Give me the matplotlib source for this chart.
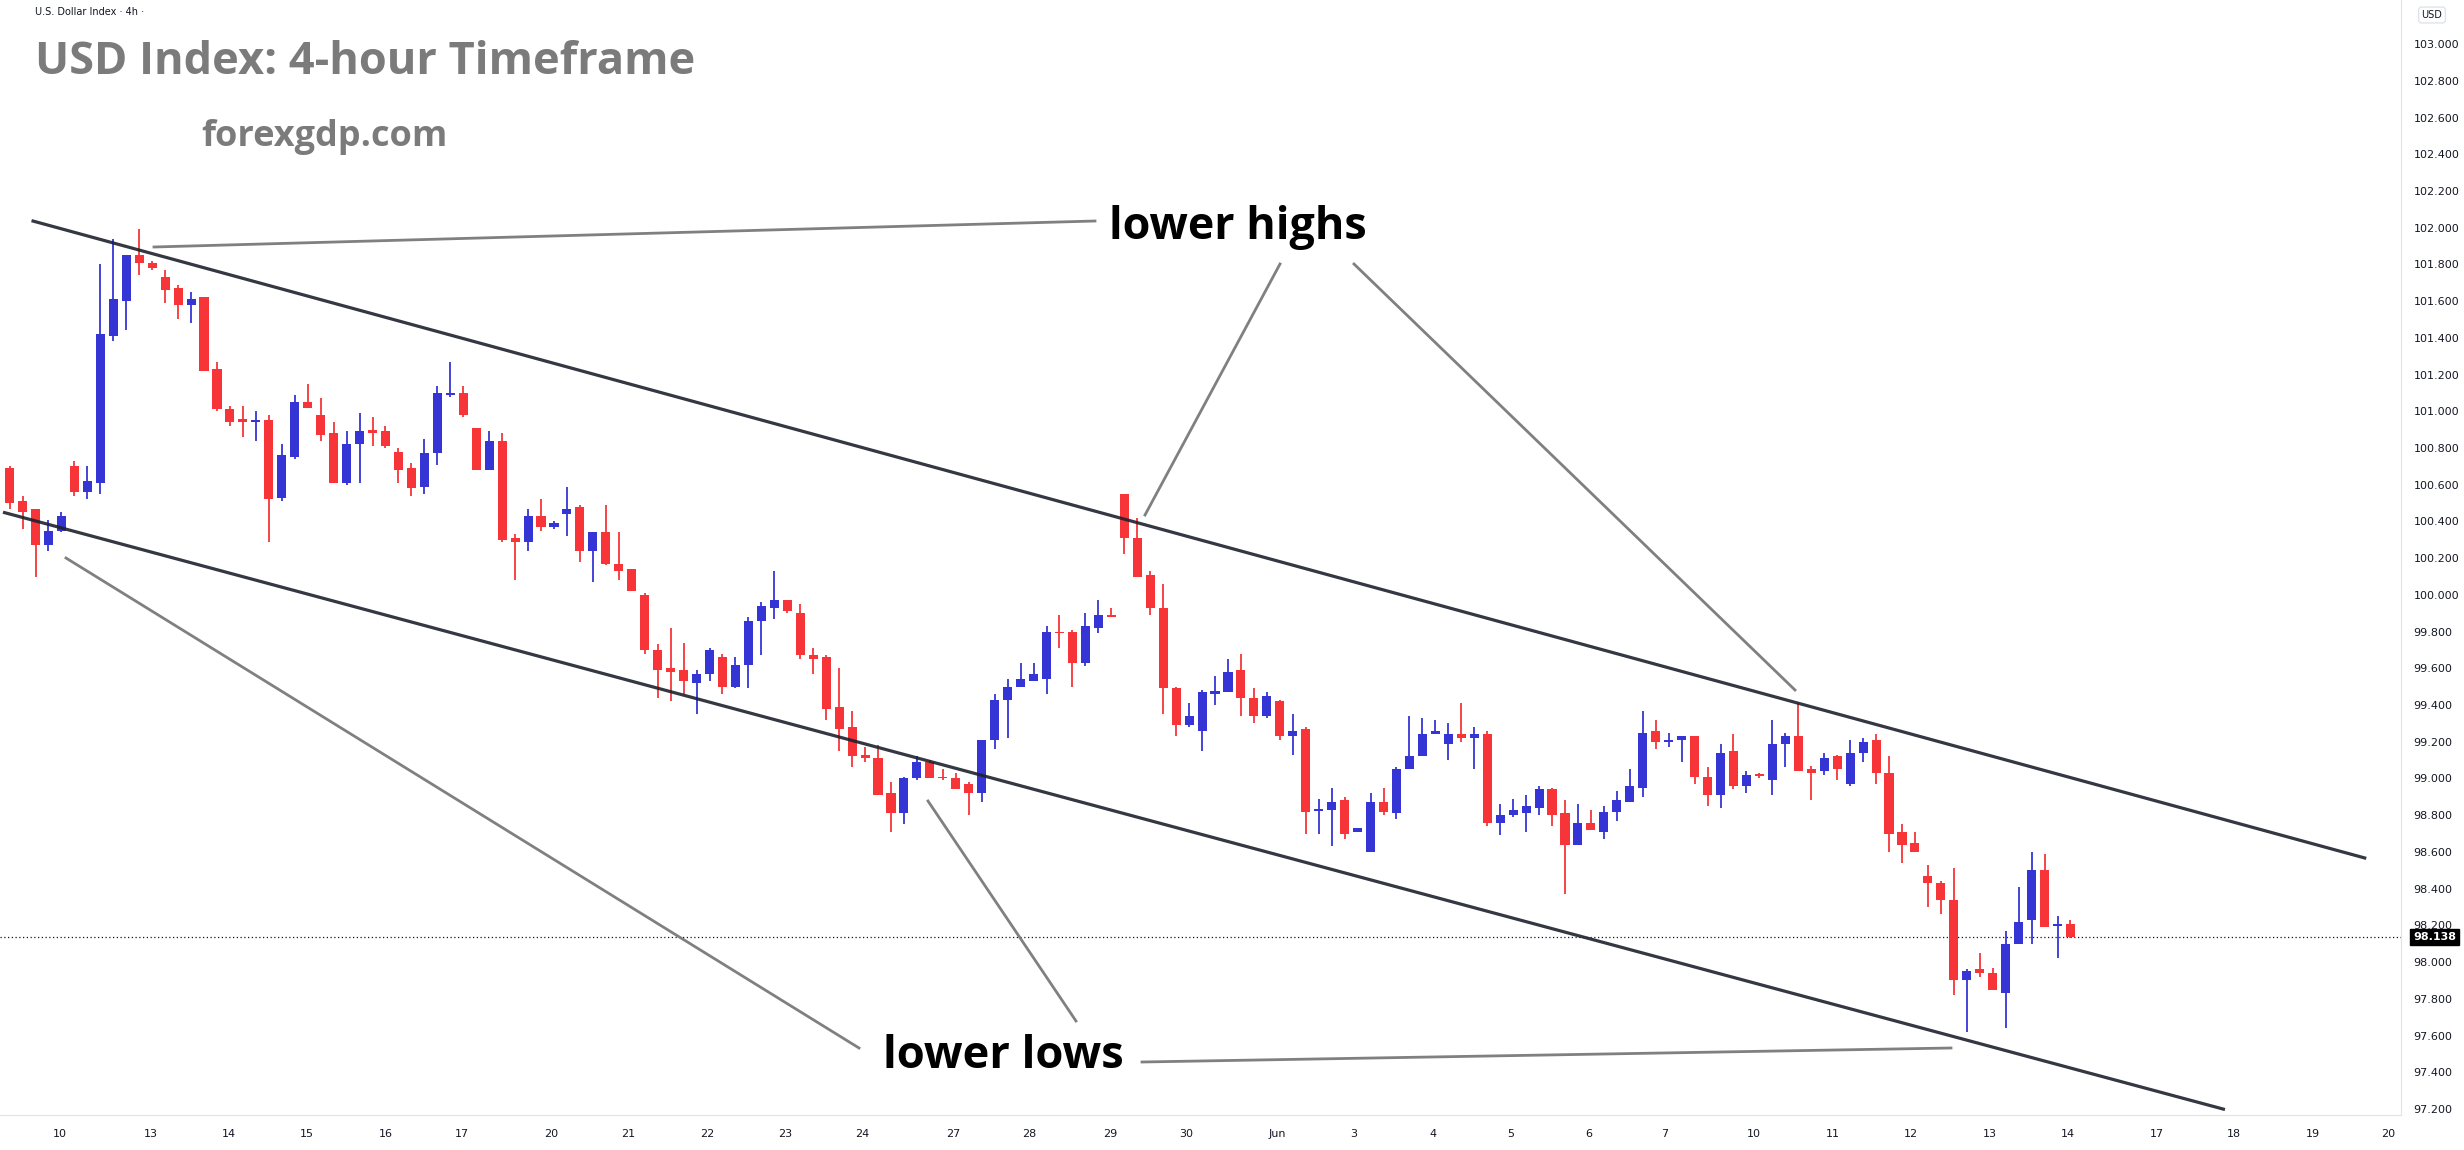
import matplotlib
matplotlib.use("Agg")
import matplotlib.pyplot as plt
import numpy as np

ohlc = [
(100.69,100.70,100.47,100.50),(100.51,100.54,100.36,100.45),(100.47,100.47,100.10,100.27),(100.27,100.41,100.24,100.35),
(100.35,100.45,100.34,100.43),(100.70,100.73,100.54,100.56),(100.56,100.70,100.52,100.62),(100.61,101.80,100.55,101.42),
(101.41,101.94,101.38,101.61),(101.60,101.85,101.44,101.85),(101.85,101.99,101.74,101.81),(101.81,101.82,101.77,101.78),
(101.73,101.77,101.59,101.66),(101.67,101.69,101.50,101.58),(101.58,101.65,101.48,101.61),(101.62,101.62,101.22,101.22),
(101.23,101.27,101.00,101.01),(101.01,101.03,100.92,100.94),(100.96,101.03,100.86,100.94),(100.94,101.00,100.84,100.95),
(100.95,100.98,100.29,100.52),(100.53,100.82,100.51,100.76),(100.75,101.09,100.74,101.05),(101.05,101.15,101.02,101.02),
(100.98,101.07,100.84,100.87),(100.88,100.94,100.61,100.61),(100.61,100.89,100.60,100.82),(100.82,100.99,100.61,100.89),
(100.90,100.97,100.81,100.88),(100.89,100.92,100.80,100.81),(100.78,100.80,100.61,100.68),(100.69,100.72,100.54,100.58),
(100.59,100.85,100.55,100.77),(100.77,101.14,100.71,101.10),(101.09,101.27,101.08,101.10),(101.10,101.14,100.97,100.98),
(100.91,100.91,100.68,100.68),(100.68,100.89,100.68,100.84),(100.84,100.88,100.29,100.30),(100.31,100.33,100.08,100.29),
(100.29,100.47,100.24,100.43),(100.43,100.52,100.35,100.37),(100.37,100.40,100.36,100.39),(100.44,100.59,100.32,100.47),
(100.48,100.49,100.18,100.24),(100.24,100.34,100.07,100.34),(100.34,100.49,100.16,100.17),(100.17,100.34,100.08,100.13),
(100.14,100.14,100.02,100.02),(100.00,100.01,99.68,99.70),(99.70,99.73,99.44,99.59),(99.60,99.82,99.42,99.58),
(99.59,99.74,99.46,99.53),(99.52,99.59,99.35,99.57),(99.57,99.71,99.53,99.70),(99.66,99.68,99.46,99.50),
(99.50,99.66,99.49,99.62),(99.62,99.88,99.49,99.86),(99.86,99.96,99.67,99.94),(99.93,100.13,99.87,99.97),
(99.97,99.97,99.90,99.91),(99.90,99.95,99.65,99.67),(99.67,99.71,99.57,99.65),(99.66,99.67,99.32,99.38),
(99.39,99.60,99.15,99.27),(99.28,99.37,99.06,99.12),(99.13,99.17,99.09,99.11),(99.11,99.18,98.91,98.91),
(98.92,98.98,98.71,98.81),(98.81,99.01,98.75,99.00),(99.00,99.12,98.99,99.09),(99.09,99.10,99.00,99.00),
(99.01,99.05,98.99,99.00),(99.00,99.03,98.94,98.94),(98.97,98.98,98.80,98.92),(98.92,99.21,98.87,99.21),
(99.21,99.46,99.16,99.43),(99.43,99.54,99.22,99.50),(99.50,99.63,99.50,99.54),(99.53,99.63,99.53,99.57),
(99.54,99.83,99.46,99.80),(99.80,99.89,99.71,99.79),(99.80,99.81,99.50,99.63),(99.63,99.90,99.61,99.83),
(99.82,99.97,99.79,99.89),(99.89,99.93,99.88,99.88),(100.55,100.55,100.22,100.31),(100.31,100.42,100.10,100.10),
(100.11,100.13,99.89,99.93),(99.93,100.06,99.35,99.49),(99.49,99.50,99.23,99.29),(99.29,99.41,99.28,99.34),
(99.26,99.48,99.15,99.47),(99.465,99.56,99.40,99.47),(99.47,99.65,99.47,99.58),(99.59,99.68,99.34,99.44),
(99.44,99.49,99.30,99.34),(99.34,99.47,99.33,99.45),(99.42,99.43,99.21,99.23),(99.23,99.35,99.13,99.26),
(99.27,99.28,98.70,98.82),(98.825,98.89,98.70,98.835),(98.83,98.95,98.63,98.87),(98.88,98.90,98.67,98.70),
(98.71,98.73,98.71,98.73),(98.60,98.92,98.60,98.87),(98.87,98.95,98.80,98.82),(98.81,99.06,98.78,99.05),
(99.05,99.34,99.05,99.12),(99.12,99.33,99.12,99.24),(99.24,99.32,99.24,99.26),(99.19,99.30,99.10,99.24),
(99.24,99.41,99.20,99.22),(99.22,99.28,99.05,99.24),(99.24,99.26,98.74,98.76),(98.76,98.86,98.69,98.80),
(98.80,98.89,98.79,98.83),(98.81,98.91,98.71,98.85),(98.84,98.96,98.80,98.94),(98.94,98.95,98.74,98.80),
(98.81,98.88,98.37,98.64),(98.64,98.86,98.64,98.76),(98.76,98.83,98.72,98.72),(98.71,98.85,98.67,98.82),
(98.82,98.93,98.77,98.88),(98.87,99.05,98.87,98.96),(98.95,99.37,98.90,99.25),(99.26,99.32,99.16,99.20),
(99.20,99.25,99.17,99.21),(99.21,99.23,99.09,99.23),(99.23,99.23,98.97,99.01),(99.01,99.06,98.85,98.91),
(98.91,99.19,98.84,99.14),(99.15,99.24,98.94,98.96),(98.96,99.04,98.92,99.02),(99.02,99.03,99.00,99.015),
(98.99,99.32,98.91,99.19),(99.19,99.25,99.06,99.23),(99.23,99.41,99.04,99.04),(99.05,99.07,98.88,99.03),
(99.04,99.14,99.02,99.11),(99.12,99.13,98.99,99.05),(98.97,99.21,98.96,99.14),(99.14,99.22,99.09,99.20),
(99.21,99.24,98.97,99.03),(99.03,99.12,98.60,98.70),(98.71,98.75,98.54,98.64),(98.65,98.71,98.60,98.60),
(98.47,98.53,98.30,98.43),(98.43,98.44,98.26,98.34),(98.34,98.51,97.82,97.90),(97.90,97.96,97.62,97.95),
(97.96,98.05,97.92,97.94),(97.94,97.97,97.85,97.85),(97.83,98.17,97.64,98.10),(98.10,98.41,98.10,98.22),
(98.23,98.60,98.10,98.50),(98.50,98.59,98.19,98.19),(98.195,98.25,98.02,98.205),(98.21,98.23,98.13,98.138),
]
opens = [r[0] for r in ohlc]
highs = [r[1] for r in ohlc]
lows = [r[2] for r in ohlc]
closes = [r[3] for r in ohlc]

date_labels = ["10","13","14","15","16","17","20","21","22","23","24","27","28","29","30","Jun",
               "3","4","5","6","7","10","11","12","13","14","17","18","19","20"]
date_pos = [3.9,10.9,16.9,22.9,29.0,34.9,41.8,47.7,53.8,59.8,65.8,72.8,78.7,84.9,90.8,97.8,
            103.7,109.8,115.8,121.8,127.7,134.6,140.7,146.7,152.8,158.8,165.7,171.6,177.7,183.5]
price_ticks = [round(97.2 + 0.2*i, 1) for i in range(30)]
last_price = 98.138

upper_channel = ([1.81, 181.7], [102.036, 98.567])
lower_channel = ([-0.39, 170.8], [100.448, 97.199])

BLUE = "#3535d6"
RED = "#f73538"

fig = plt.figure(figsize=(24.64, 11.5), dpi=100)
ax = fig.add_axes([0, 1 - 1115/1150, 2401/2464, 1115/1150])
ax.set_xlim(-0.74, 184.5)
ax.set_ylim(97.167, 103.24)

x = np.arange(len(opens))
for i in x:
    o, h, l, c = opens[i], highs[i], lows[i], closes[i]
    col = BLUE if c >= o else RED
    ax.vlines(i, l, h, color=col, lw=1.3, zorder=3)
    b0, b1 = min(o, c), max(o, c)
    if b1 - b0 < 0.008:
        b0 -= 0.004; b1 += 0.004
    ax.bar(i, b1 - b0, bottom=b0, width=0.7, color=col, edgecolor=col, lw=0, zorder=4)

ax.plot(*upper_channel, color="#1e222d", lw=2.3, zorder=5, alpha=0.9)
ax.plot(*lower_channel, color="#1e222d", lw=2.3, zorder=5, alpha=0.9)
ax.axhline(last_price, color="#131722", lw=0.9, ls=(0, (1, 2)), zorder=2)

def px(xp, yp):
    return ax.transData.inverted().transform(fig.transFigure.transform((xp/2464, 1 - yp/1150)))

fig.canvas.draw()
ann = [((154, 247), (1095, 221)), ((1280, 264), (1145, 515)), ((1354, 264), (1795, 690)),
       ((859, 1048), (66, 558)), ((1076, 1021), (928, 801)), ((1142, 1062), (1951, 1048))]
for a, b in ann:
    pa, pb = px(*a), px(*b)
    ax.plot([pa[0], pb[0]], [pa[1], pb[1]], color="#808080", lw=2.0, zorder=5)

fig.text(35/2464, 1 - 62/1150, "USD Index: 4-hour Timeframe", fontsize=32.5, fontweight="bold",
         color="#7b7b7b", family="Open Sans", va="center")
fig.text(201/2464, 1 - 137/1150, "forexgdp.com", fontsize=26, fontweight="bold",
         color="#7b7b7b", family="Open Sans", va="center")
fig.text(1109/2464, 1 - 228/1150, "lower highs", fontsize=32.3, fontweight="bold",
         color="black", family="Open Sans", va="center")
fig.text(883/2464, 1 - 1056/1150, "lower lows", fontsize=32.6, fontweight="bold",
         color="black", family="Open Sans", va="center")
fig.text(35/2464, 1 - 12/1150, "U.S. Dollar Index · 4h ·", fontsize=7, color="#131722", va="center")

ax.yaxis.tick_right()
ax.set_yticks(price_ticks)
ax.set_yticklabels([f"{v:.3f}" for v in price_ticks], fontsize=8, color="#131722")
ax.tick_params(axis="y", length=0, pad=9)
ax.set_xticks(date_pos)
ax.set_xticklabels(date_labels, fontsize=8, color="#131722")
ax.tick_params(axis="x", length=0, pad=10)
for s in ["top", "left"]:
    ax.spines[s].set_visible(False)
for s in ["bottom", "right"]:
    ax.spines[s].set_color("#e0e3eb")

ax.text(1.005, last_price, f"{last_price:.3f}", transform=ax.get_yaxis_transform(), fontsize=8,
        color="white", fontweight="bold", va="center", ha="left", zorder=10,
        bbox=dict(boxstyle="square,pad=0.25", fc="black", ec="black"))
fig.text(2432/2464, 1 - 15/1150, "USD", fontsize=7, color="#131722", ha="center", va="center",
         bbox=dict(boxstyle="round,pad=0.3", fc="white", ec="#e0e3eb"))

fig.savefig("out.png", dpi=100, facecolor="white")
